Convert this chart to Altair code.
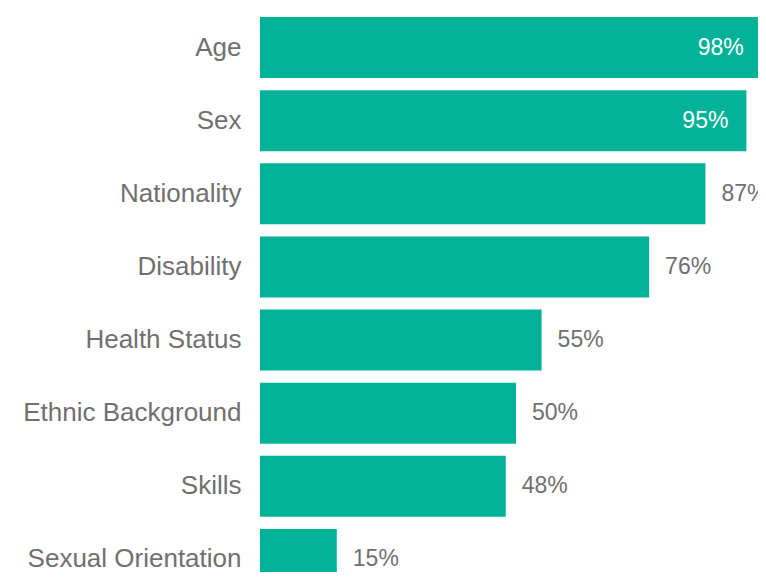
import altair as alt
import pandas as pd

categories = ["Age", "Sex", "Nationality", "Disability", "Health Status",
              "Ethnic Background", "Skills", "Sexual Orientation"]
values = [98, 95, 87, 76, 55, 50, 48, 15]
labels = ["98%", "95%", "87%", "76%", "55%", "50%", "48%", "15%"]

df = pd.DataFrame({"category": categories, "value": values, "label": labels})

FONT = "Liberation Sans"
BAR = "#00B398"
GRAY = "#707070"

y_enc = alt.Y("category:N", sort=categories,
              scale=alt.Scale(range=[0, 585], paddingInner=0.167, paddingOuter=0.0835),
              axis=alt.Axis(title=None, domain=False, ticks=False, tickSize=0,
                            labelPadding=19, labelFontSize=26, labelFont=FONT,
                            labelColor=GRAY, labelLimit=400))
x_enc = alt.X("value:Q", scale=alt.Scale(domain=[0, 100], range=[0, 512]),
              axis=None)

bars = alt.Chart(df).mark_bar(color=BAR).encode(x=x_enc, y=y_enc)

inside = alt.Chart(df).transform_filter("datum.value >= 90").mark_text(
    align="right", baseline="middle", dx=-18, fontSize=23, font=FONT, color="white"
).encode(x=x_enc, y=y_enc, text="label:N")

outside = alt.Chart(df).transform_filter("datum.value < 90").mark_text(
    align="left", baseline="middle", dx=16, fontSize=23, font=FONT, color=GRAY
).encode(x=x_enc, y=y_enc, text="label:N")

chart = alt.layer(bars, inside, outside).properties(
    width=498, height=561,
    autosize=alt.AutoSizeParams(type="none"),
    padding={"left": 252, "top": 3, "right": 0, "bottom": 0},
).configure_view(stroke=None)

chart.save("out.html", embed_options={"renderer": "svg", "actions": False})
